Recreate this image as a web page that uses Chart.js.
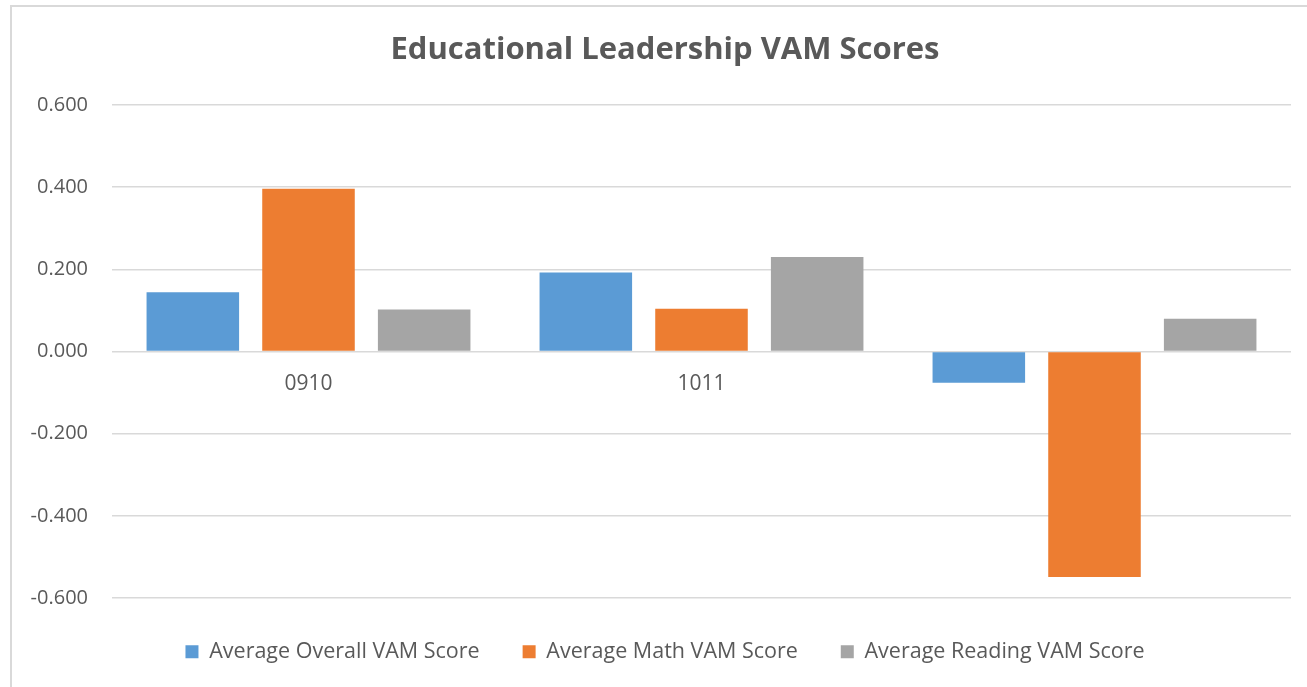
<!DOCTYPE html>
<html>
<head>
<meta charset="utf-8">
<script src="https://cdn.jsdelivr.net/npm/chart.js@4/dist/chart.umd.min.js"></script>
<style>
  html, body { margin: 0; padding: 0; background: #fff; }
  #wrap { position: absolute; left: 0; top: 0; width: 1307px; height: 687px; }
  #bt { position: absolute; left: 10px; top: 5px; width: 1297px; height: 2px; background: #d9d9d9; }
  #bl { position: absolute; left: 10px; top: 5px; width: 2px; height: 682px; background: #d9d9d9; }
  canvas { position: absolute; left: 0; top: 0; }
</style>
</head>
<body>
<div id="bt"></div><div id="bl"></div>
<div id="wrap"><canvas id="c" width="1307" height="687"></canvas></div>
<script>
const categories = ["0910", "1011", "1112"];
const overallScores = [0.144, 0.192, -0.076];
const mathScores = [0.396, 0.104, -0.549];
const readingScores = [0.102, 0.230, 0.080];
const seriesNames = ["Average Overall VAM Score", "Average Math VAM Score", "Average Reading VAM Score"];
const yTicks = { min: -0.6, max: 0.6, step: 0.2 };
const chartTitle = "Educational Leadership VAM Scores";

const FONT = "'Open Sans', 'DejaVu Sans', sans-serif";
const TXT = "#595959";

const layoutTweaks = {
  id: 'layoutTweaks',
  beforeUpdate(chart) {
    const lg = chart.legend;
    if (lg && !lg._patched) {
      const orig = lg.fit;
      lg.fit = function () { orig.call(this); this.height = 76; };
      lg._patched = true;
    }
  },
  afterLayout(chart) {
    if (chart.titleBlock) chart.titleBlock.left += 39;
    if (chart.legend) chart.legend.left += 39;
  }
};

new Chart(document.getElementById('c'), {
  type: 'bar',
  data: {
    labels: categories,
    datasets: [
      { label: seriesNames[0], data: overallScores, backgroundColor: '#5B9BD5' },
      { label: seriesNames[1], data: mathScores, backgroundColor: '#ED7D31' },
      { label: seriesNames[2], data: readingScores, backgroundColor: '#A5A5A5' }
    ]
  },
  options: {
    responsive: false,
    animation: false,
    events: [],
    layout: { padding: { left: 0, right: 16, top: 0, bottom: 13 } },
    datasets: { bar: { barPercentage: 0.8, categoryPercentage: 0.883 } },
    plugins: {
      title: {
        display: true, text: chartTitle, color: TXT,
        font: { family: FONT, size: 31, weight: 'bold', lineHeight: 1.2 },
        padding: { top: 31.5, bottom: 36.3 }
      },
      legend: {
        position: 'bottom',
        labels: {
          color: TXT, boxWidth: 13, boxHeight: 13, padding: 43,
          font: { family: FONT, size: 21.5 }
        }
      },
      tooltip: { enabled: false }
    },
    scales: {
      x: {
        position: { y: 0 },
        z: 1,
        grid: { display: false, drawTicks: false },
        border: { display: false },
        ticks: { color: TXT, padding: 20, font: { family: FONT, size: 21 } },
        afterFit(s) { s.height = 0; }
      },
      y: {
        min: yTicks.min, max: yTicks.max,
        grid: { color: '#d9d9d9', lineWidth: 1.6, drawTicks: false },
        border: { display: false },
        ticks: {
          stepSize: yTicks.step, color: TXT, padding: 24,
          font: { family: FONT, size: 20 },
          callback: (v) => (Math.abs(v) < 1e-9 ? 0 : v).toFixed(3)
        },
        afterFit(s) { s.width = 112; }
      }
    }
  },
  plugins: [layoutTweaks]
});
</script>
</body>
</html>
